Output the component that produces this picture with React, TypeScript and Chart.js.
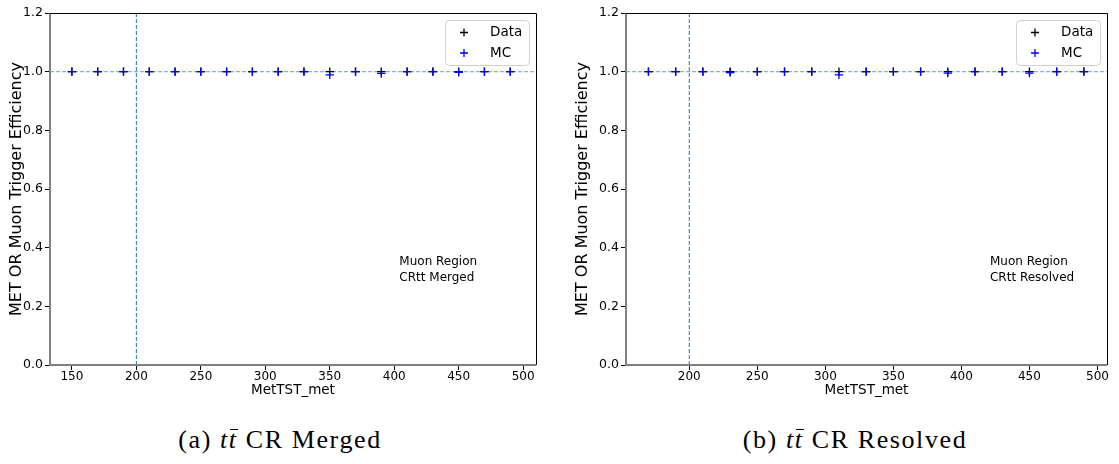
import React, { useEffect, useRef } from "react";
import { Chart, registerables } from "chart.js";

Chart.register(...registerables);

// MET bin centres (GeV) and trigger efficiencies, merged selection
const binsMerged = [150, 170, 190, 210, 230, 250, 270, 290, 310, 330, 350, 370, 390, 410, 430, 450, 470, 490];
const dataMerged = [1.0, 1.0, 1.0, 1.0, 1.0, 1.0, 1.0, 1.0, 1.0, 1.0, 1.0, 1.0, 1.0, 1.0, 1.0, 1.0, 1.0, 1.0];
const mcMerged = [1.0, 1.0, 1.0, 1.0, 1.0, 1.0, 1.0, 1.0, 1.0, 1.0, 0.989, 1.0, 0.994, 1.0, 1.0, 0.998, 1.0, 1.0];

// MET bin centres (GeV) and trigger efficiencies, resolved selection
const binsResolved = [170, 190, 210, 230, 250, 270, 290, 310, 330, 350, 370, 390, 410, 430, 450, 470, 490];
const dataResolved = [1.0, 1.0, 1.0, 1.0, 1.0, 1.0, 1.0, 1.0, 1.0, 1.0, 1.0, 1.0, 1.0, 1.0, 1.0, 1.0, 1.0];
const mcResolved = [1.0, 1.0, 1.0, 0.997, 1.0, 1.0, 1.0, 0.989, 1.0, 1.0, 1.0, 0.995, 1.0, 1.0, 0.995, 1.0, 1.0];

const yTicks = [0, 0.2, 0.4, 0.6, 0.8, 1.0, 1.2];
const xTicksMerged = [150, 200, 250, 300, 350, 400, 450, 500];
const xTicksResolved = [200, 250, 300, 350, 400, 450, 500];

const metThreshold = 200;
const plateau = 1.0;
const yTitle = "MET OR Muon Trigger Efficiency";
const xTitle = "MetTST_met";
const FONT = '"DejaVu Sans"';

type PanelLayout = {
  left: number;
  width: number;
  height: number;
  padding: { left: number; right: number; top: number; bottom: number };
  yAxisWidth: number;
  xAxisHeight: number;
  yTitleX: number;
};

type PanelProps = {
  bins: number[];
  data: number[];
  mc: number[];
  xTicks: number[];
  xMin: number;
  xMax: number;
  regionLines: string[];
  noteX: number;
  noteY: number;
  layout: PanelLayout;
};

function drawCross(ctx: CanvasRenderingContext2D, x: number, y: number, r: number, color: string) {
  ctx.strokeStyle = color;
  ctx.lineWidth = 1.3;
  ctx.beginPath();
  ctx.moveTo(x - r, y);
  ctx.lineTo(x + r, y);
  ctx.moveTo(x, y - r);
  ctx.lineTo(x, y + r);
  ctx.stroke();
}

function Panel({ bins, data, mc, xTicks, xMin, xMax, regionLines, noteX, noteY, layout }: PanelProps) {
  const ref = useRef<HTMLCanvasElement>(null);

  useEffect(() => {
    const canvas = ref.current;
    if (!canvas) return;

    const overlay = {
      id: "panelOverlay",
      afterDraw(chart: any) {
        const { ctx, chartArea: a, scales } = chart;
        const xs = scales.x;
        const ys = scales.y;
        ctx.save();

        // axes frame
        ctx.lineWidth = 2;
        ctx.strokeStyle = "#808080";
        ctx.beginPath();
        ctx.moveTo(a.left, a.top);
        ctx.lineTo(a.left, a.bottom);
        ctx.lineTo(a.right, a.bottom);
        ctx.stroke();
        ctx.lineWidth = 1;
        ctx.strokeStyle = "#000";
        ctx.beginPath();
        ctx.moveTo(a.left, Math.round(a.top) + 0.5);
        ctx.lineTo(Math.round(a.right) + 0.5, Math.round(a.top) + 0.5);
        ctx.lineTo(Math.round(a.right) + 0.5, a.bottom);
        ctx.stroke();

        // axis titles
        ctx.fillStyle = "#000";
        ctx.textAlign = "center";
        ctx.textBaseline = "middle";
        ctx.font = `13.5px ${FONT}`;
        ctx.fillText(xTitle, (a.left + a.right) / 2, a.bottom + 25);
        ctx.save();
        ctx.font = `16px ${FONT}`;
        ctx.translate(layout.yTitleX, (a.top + a.bottom) / 2);
        ctx.rotate(-Math.PI / 2);
        ctx.fillText(yTitle, 0, 0);
        ctx.restore();

        // region annotation
        ctx.font = `12px ${FONT}`;
        ctx.textAlign = "left";
        const nx = xs.getPixelForValue(noteX);
        const ny = ys.getPixelForValue(noteY);
        regionLines.forEach((t, i) => ctx.fillText(t, nx, ny + i * 16));

        // legend
        const bx = a.right - 91;
        const by = a.top + 7;
        const bw = 84;
        const bh = 45;
        ctx.beginPath();
        ctx.roundRect(bx + 0.5, by + 0.5, bw, bh, 4);
        ctx.fillStyle = "rgba(255,255,255,0.8)";
        ctx.fill();
        ctx.strokeStyle = "#d0d0d0";
        ctx.lineWidth = 1;
        ctx.stroke();
        drawCross(ctx, bx + 19, by + 12.5, 4, "#000");
        drawCross(ctx, bx + 19, by + 33, 4, "#0000ff");
        ctx.fillStyle = "#000";
        ctx.font = `13.5px ${FONT}`;
        ctx.fillText("Data", bx + 45, by + 12.5);
        ctx.fillText("MC", bx + 45, by + 33);

        ctx.restore();
      },
    };

    const chart = new Chart(canvas, {
      type: "scatter",
      data: {
        datasets: [
          {
            label: "MC",
            data: bins.map((x, i) => ({ x, y: mc[i] })),
            pointStyle: "cross",
            pointRadius: 4.2,
            borderColor: "#0000ff",
            backgroundColor: "#0000ff",
            pointBorderWidth: 1.3,
            order: 0,
          },
          {
            label: "Data",
            data: bins.map((x, i) => ({ x, y: data[i] })),
            pointStyle: "cross",
            pointRadius: 4.2,
            borderColor: "#000000",
            backgroundColor: "#000000",
            pointBorderWidth: 1.3,
            order: 1,
          },
          {
            label: "plateau",
            data: [
              { x: xMin, y: plateau },
              { x: xMax, y: plateau },
            ],
            showLine: true,
            pointRadius: 0,
            borderColor: "rgba(31,119,180,0.55)",
            borderWidth: 1.2,
            borderDash: [4, 2],
            order: 2,
          },
          {
            label: "threshold",
            data: [
              { x: metThreshold, y: 0 },
              { x: metThreshold, y: 1.2 },
            ],
            showLine: true,
            pointRadius: 0,
            borderColor: "#1f77b4",
            borderWidth: 1,
            borderDash: [4, 2],
            order: 3,
          },
        ],
      },
      options: {
        animation: false,
        responsive: false,
        events: [],
        layout: { padding: layout.padding },
        plugins: { legend: { display: false }, tooltip: { enabled: false } },
        scales: {
          x: {
            type: "linear",
            min: xMin,
            max: xMax,
            afterBuildTicks: (s: any) => {
              s.ticks = xTicks.map((v) => ({ value: v }));
            },
            afterFit: (s: any) => {
              s.height = layout.xAxisHeight;
            },
            grid: { drawOnChartArea: false, drawTicks: true, tickLength: 5, color: "#000" },
            border: { display: false },
            ticks: {
              font: { family: "DejaVu Sans", size: 12 },
              color: "#000",
              padding: 0,
              maxRotation: 0,
              autoSkip: false,
              callback: (v: any) => String(v),
            },
          },
          y: {
            type: "linear",
            min: 0,
            max: 1.2,
            afterBuildTicks: (s: any) => {
              s.ticks = yTicks.map((v) => ({ value: v }));
            },
            afterFit: (s: any) => {
              s.width = layout.yAxisWidth;
            },
            grid: { drawOnChartArea: false, drawTicks: true, tickLength: 5, color: "#000" },
            border: { display: false },
            ticks: {
              font: { family: "DejaVu Sans", size: 12.5 },
              color: "#000",
              padding: 2,
              autoSkip: false,
              callback: (v: any) => Number(v).toFixed(1),
            },
          },
        },
      },
      plugins: [overlay],
    } as any);

    return () => chart.destroy();
  }, []);

  return (
    <canvas
      ref={ref}
      width={layout.width}
      height={layout.height}
      style={{ position: "absolute", left: layout.left, top: 0, width: layout.width, height: layout.height }}
    />
  );
}

function Caption({ tag, name, center }: { tag: string; name: string; center: number }) {
  return (
    <div
      style={{
        position: "absolute",
        left: center - 200,
        width: 400,
        top: 424,
        textAlign: "center",
        fontFamily: '"Liberation Serif", serif',
        fontSize: 26,
        lineHeight: "32px",
        letterSpacing: 1.6,
        color: "#000",
        whiteSpace: "nowrap",
      }}
    >
      {`(${tag}) `}
      <span style={{ fontStyle: "italic" }}>t</span>
      <span style={{ fontStyle: "italic", position: "relative", display: "inline-block" }}>
        t
        <span
          style={{
            position: "absolute",
            left: 1,
            top: 5,
            width: 8,
            height: 1.3,
            background: "#000",
          }}
        />
      </span>
      {` CR ${name}`}
    </div>
  );
}

export default function App() {
  return (
    <div
      style={{
        position: "absolute",
        left: 0,
        top: 0,
        width: 1119,
        height: 464,
        background: "#fff",
        overflow: "hidden",
      }}
    >
      <Panel
        bins={binsMerged}
        data={dataMerged}
        mc={mcMerged}
        xTicks={xTicksMerged}
        xMin={133}
        xMax={510}
        regionLines={["Muon Region", "CRtt Merged"]}
        noteX={404}
        noteY={0.351}
        layout={{
          left: 0,
          width: 560,
          height: 400,
          padding: { left: 0, right: 24, top: 13, bottom: 0 },
          yAxisWidth: 50,
          xAxisHeight: 35,
          yTitleX: 17,
        }}
      />
      <Panel
        bins={binsResolved}
        data={dataResolved}
        mc={mcResolved}
        xTicks={xTicksResolved}
        xMin={153.5}
        xMax={507}
        regionLines={["Muon Region", "CRtt Resolved"]}
        noteX={421}
        noteY={0.351}
        layout={{
          left: 560,
          width: 559,
          height: 400,
          padding: { left: 0, right: 12, top: 13, bottom: 0 },
          yAxisWidth: 66,
          xAxisHeight: 35,
          yTitleX: 23,
        }}
      />
      <Caption tag="a" name="Merged" center={280} />
      <Caption tag="b" name="Resolved" center={855} />
    </div>
  );
}
